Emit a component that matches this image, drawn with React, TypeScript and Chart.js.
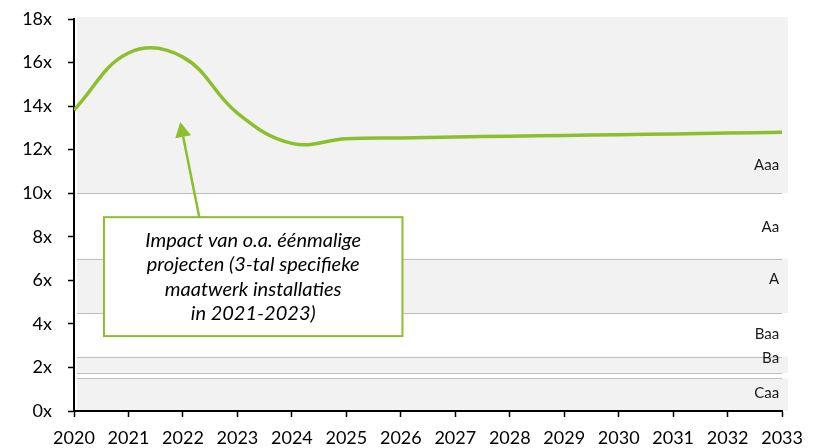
import { useEffect, useRef } from "react";
import { Chart, registerables } from "chart.js";

Chart.register(...registerables);

const years = [2020, 2021, 2022, 2023, 2024, 2025, 2026, 2027, 2028, 2029, 2030, 2031, 2032, 2033];
const multiple = [13.82, 16.44, 16.25, 13.68, 12.29, 12.5, 12.54, 12.58, 12.62, 12.65, 12.69, 12.72, 12.76, 12.8];

const bandBounds = [0, 1.5, 1.75, 2.5, 4.5, 7, 10, 18];
const bandShaded = [true, false, true, false, true, false, true];
const ratingNames = ["Caa", "Ba", "Baa", "A", "Aa", "Aaa"];
const ratingLabelAt = [0.83, 2.43, 3.54, 6.06, 8.45, 11.3];

const noteLines = [
  "Impact van o.a. éénmalige",
  "projecten (3-tal specifieke",
  "maatwerk installaties",
  "in 2021-2023)",
];

const GREEN = "#8cbf2d";
const FONT = "Lato, 'Open Sans', sans-serif";

const bandsPlugin = {
  id: "bands",
  beforeDraw(chart: any) {
    const { ctx, chartArea, scales } = chart;
    const y = scales.y;
    const left = chartArea.left + 3;
    const right = chartArea.right + 6;
    ctx.save();
    for (let i = 0; i < bandBounds.length - 1; i++) {
      if (!bandShaded[i]) continue;
      let top = y.getPixelForValue(bandBounds[i + 1]);
      const bot = y.getPixelForValue(bandBounds[i]);
      if (i === bandBounds.length - 2) top -= 2;
      ctx.fillStyle = "#f2f2f2";
      ctx.fillRect(left, top, right - left, bot - top);
    }
    ctx.strokeStyle = "#bfbfbf";
    ctx.lineWidth = 1.2;
    for (let i = 1; i < bandBounds.length - 1; i++) {
      const py = Math.round(y.getPixelForValue(bandBounds[i])) + 0.5;
      ctx.beginPath();
      ctx.moveTo(left, py);
      ctx.lineTo(chartArea.right, py);
      ctx.stroke();
    }
    ctx.fillStyle = "#1a1a1a";
    ctx.font = `15px ${FONT}`;
    ctx.textAlign = "right";
    ctx.textBaseline = "middle";
    ratingNames.forEach((n, i) => {
      ctx.fillText(n, chartArea.right - 3, y.getPixelForValue(ratingLabelAt[i]));
    });
    ctx.restore();
  },
};

const notePlugin = {
  id: "note",
  afterDatasetsDraw(chart: any) {
    const { ctx, scales } = chart;
    const x = scales.x;
    const y = scales.y;
    const bx0 = x.getPixelForValue(2020.55);
    const bx1 = x.getPixelForValue(2026.03);
    const by0 = y.getPixelForValue(8.9);
    const by1 = y.getPixelForValue(3.44);
    const sx = x.getPixelForValue(2022.3);
    const sy = by0;
    const tx = x.getPixelForValue(2021.95);
    const ty = y.getPixelForValue(13.27);
    ctx.save();
    const ang = Math.atan2(ty - sy, tx - sx);
    const headLen = 15;
    const headW = 8;
    const baseX = tx - headLen * Math.cos(ang);
    const baseY = ty - headLen * Math.sin(ang);
    ctx.strokeStyle = GREEN;
    ctx.lineWidth = 2.5;
    ctx.beginPath();
    ctx.moveTo(sx, sy);
    ctx.lineTo(baseX, baseY);
    ctx.stroke();
    ctx.fillStyle = GREEN;
    ctx.beginPath();
    ctx.moveTo(tx, ty);
    ctx.lineTo(baseX + headW * Math.sin(ang), baseY - headW * Math.cos(ang));
    ctx.lineTo(baseX - headW * Math.sin(ang), baseY + headW * Math.cos(ang));
    ctx.closePath();
    ctx.fill();
    ctx.fillStyle = "#ffffff";
    ctx.fillRect(bx0, by0, bx1 - bx0, by1 - by0);
    ctx.strokeStyle = GREEN;
    ctx.lineWidth = 2;
    ctx.strokeRect(bx0, by0, bx1 - bx0, by1 - by0);
    ctx.fillStyle = "#000000";
    ctx.font = `italic 20px ${FONT}`;
    ctx.textAlign = "center";
    ctx.textBaseline = "middle";
    const cx = (bx0 + bx1) / 2;
    noteLines.forEach((l, i) => {
      ctx.fillText(l, cx, by0 + 23 + i * 24.5);
    });
    ctx.restore();
  },
};

export default function App() {
  const ref = useRef<HTMLCanvasElement | null>(null);
  useEffect(() => {
    if (!ref.current) return;
    const chart = new Chart(ref.current, {
      type: "line",
      data: {
        datasets: [
          {
            data: years.map((yr, i) => ({ x: yr, y: multiple[i] })),
            borderColor: GREEN,
            borderWidth: 3.5,
            pointRadius: 0,
            tension: 0.4,
            fill: false,
          },
        ],
      },
      options: {
        animation: false,
        responsive: false,
        maintainAspectRatio: false,
        layout: { padding: { top: 19, right: 27, left: 0, bottom: 0 } },
        plugins: { legend: { display: false }, tooltip: { enabled: false } },
        scales: {
          x: {
            type: "linear",
            min: 2020,
            max: 2033,
            afterFit: (s: any) => {
              s.height = 37;
            },
            ticks: {
              stepSize: 1,
              callback: (v: any) => String(v),
              color: "#000",
              font: { family: FONT, size: 18 },
              padding: 10,
              maxRotation: 0,
              autoSkip: false,
            },
            grid: { drawOnChartArea: false, tickLength: 6, color: "#000", tickWidth: 1.5 },
            border: { color: "#000", width: 2 },
          },
          y: {
            min: 0,
            max: 18,
            afterFit: (s: any) => {
              s.width = 74;
              s.paddingTop = 0;
              s.paddingBottom = 0;
            },
            ticks: {
              stepSize: 2,
              callback: (v: any) => `${v}x`,
              color: "#000",
              font: { family: FONT, size: 18 },
              padding: 16,
            },
            grid: { drawOnChartArea: false, tickLength: 6, color: "#000", tickWidth: 1.5 },
            border: { color: "#000", width: 2 },
          },
        },
      },
      plugins: [bandsPlugin, notePlugin],
    } as any);
    return () => chart.destroy();
  }, []);
  return (
    <div style={{ position: "absolute", left: 0, top: 0, width: 813, height: 448 }}>
      <canvas ref={ref} width={813} height={448} style={{ width: 813, height: 448 }} />
    </div>
  );
}
